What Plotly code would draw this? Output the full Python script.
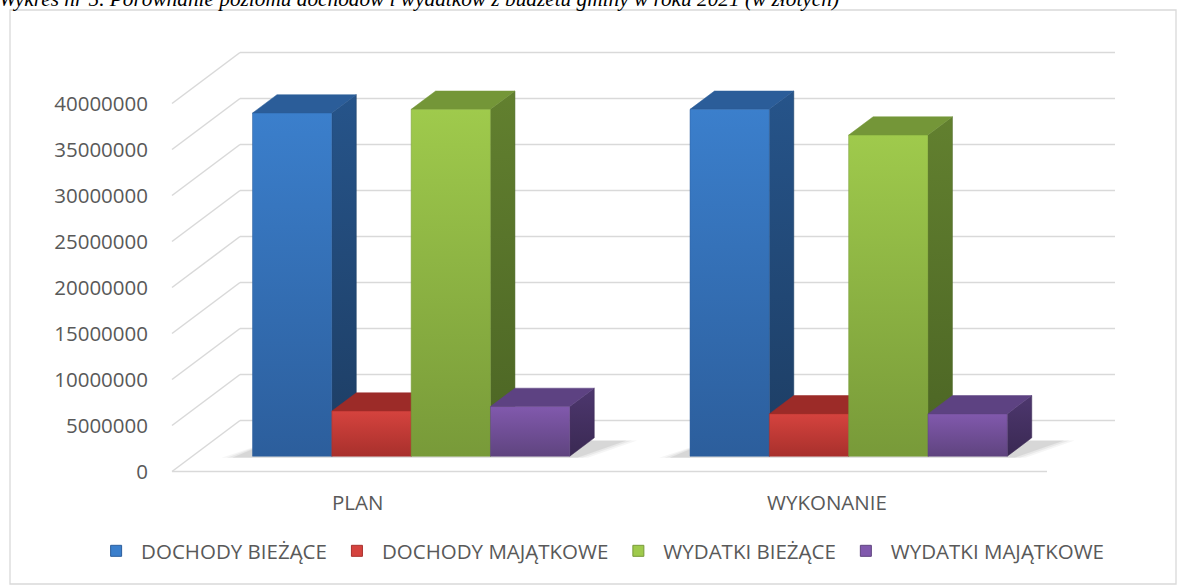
import plotly.graph_objects as go

# ---------------- data ----------------
categories = ["PLAN", "WYKONANIE"]
series_names = ["DOCHODY BIEŻĄCE", "DOCHODY MAJĄTKOWE", "WYDATKI BIEŻĄCE", "WYDATKI MAJĄTKOWE"]
dochody_biezace = [37.3e6, 37.7e6]
dochody_majatkowe = [4.9e6, 4.6e6]
wydatki_biezace = [37.7e6, 34.9e6]
wydatki_majatkowe = [5.4e6, 4.6e6]
tick_values = [0, 5e6, 10e6, 15e6, 20e6, 25e6, 30e6, 35e6, 40e6]
title_text = "Wykres nr 5. Porównanie poziomu dochodów i wydatków z budżetu gminy w roku 2021 (w złotych)"

series_values = [dochody_biezace, dochody_majatkowe, wydatki_biezace, wydatki_majatkowe]

# ---------------- styles ----------------
front_top = ["#3b7fcc", "#d5433e", "#9fca4c", "#8159ad"]
front_bot = ["#2c5e9c", "#a8302c", "#789a39", "#5f447f"]
top_col = ["#2b5d99", "#9c2b28", "#749638", "#5d4282"]
side_top = ["#26548a", "#86262a", "#62802f", "#4d376e"]
side_bot = ["#1d3d63", "#6a1d1c", "#4b6424", "#3a2953"]
grid_col = "#d9d9d9"
text_col = "#595959"
FONT = "Open Sans"

W, H = 1186, 585
PLOT_LEFT_PX = 160
X0_PX = 172.0        # floor front-left corner (pixel)
CAT_PX = 437.5       # pixels per category
Y0_PX = 471.5        # zero level on front plane (pixel)
VAL_PER_PX = 5e6 / 46.0
DEPTH_DX_PX = 68.0
DEPTH_DY_PX = 51.0

DZX = DEPTH_DX_PX / CAT_PX
DZY = DEPTH_DY_PX * VAL_PER_PX

BW = 0.1813          # bar width (category units)
GAP = 1 - 4 * BW
Z0, Z1 = 0.30, 0.66  # bar depth extent (0 = front, 1 = back wall)


def proj(xc, z, v):
    return xc + z * DZX, v + z * DZY


def poly(points):
    xs, ys = [], []
    for (xc, z, v) in points:
        px, py = proj(xc, z, v)
        xs.append(px)
        ys.append(py)
    xs.append(xs[0])
    ys.append(ys[0])
    return xs, ys


fig = go.Figure()

# ---------------- walls / grid ----------------
n_cat = len(categories)
for v in tick_values:
    xs, ys = zip(*[proj(0, 0, v), proj(0, 1, v)])
    fig.add_trace(go.Scatter(x=list(xs), y=list(ys), mode="lines",
                             line=dict(color=grid_col, width=1.5),
                             hoverinfo="skip", showlegend=False))
    xs, ys = zip(*[proj(0, 1, v), proj(n_cat, 1, v)])
    fig.add_trace(go.Scatter(x=list(xs), y=list(ys), mode="lines",
                             line=dict(color=grid_col, width=1.5),
                             hoverinfo="skip", showlegend=False))
xs, ys = zip(*[proj(0, 0, 0), proj(n_cat, 0, 0)])
fig.add_trace(go.Scatter(x=list(xs), y=list(ys), mode="lines",
                         line=dict(color=grid_col, width=1.5),
                         hoverinfo="skip", showlegend=False))

# ---------------- soft shadows ----------------
for c in range(n_cat):
    gx0 = c + GAP / 2
    gx1 = gx0 + 4 * BW
    for k, alpha in enumerate([0.04, 0.05, 0.07]):
        e = 0.012 * (3 - k)
        xs, ys = poly([(gx0 - 0.03 - e, Z0 - 0.03, 0), (gx1 + 0.01 + e, Z0 - 0.03, 0),
                       (gx1 + 0.07 + e, Z1 - 0.05, 0), (gx0, Z1 - 0.05, 0)])
        fig.add_trace(go.Scatter(x=xs, y=ys, mode="lines", fill="toself",
                                 fillcolor=f"rgba(0,0,0,{alpha})", line=dict(width=0),
                                 hoverinfo="skip", showlegend=False))

# ---------------- bars ----------------
for c in range(n_cat):
    for i, vals in enumerate(series_values):
        v = vals[c]
        x0 = c + GAP / 2 + i * BW
        x1 = x0 + BW
        xs, ys = poly([(x1, Z0, 0), (x1, Z1, 0), (x1, Z1, v), (x1, Z0, v)])
        fig.add_trace(go.Scatter(x=xs, y=ys, mode="lines", fill="toself",
                                 fillcolor=side_top[i],
                                 fillgradient=dict(type="vertical",
                                                   colorscale=[[0, side_bot[i]], [1, side_top[i]]]),
                                 line=dict(width=0.5, color=side_bot[i]),
                                 hoverinfo="skip", showlegend=False))
        xs, ys = poly([(x0, Z0, v), (x1, Z0, v), (x1, Z1, v), (x0, Z1, v)])
        fig.add_trace(go.Scatter(x=xs, y=ys, mode="lines", fill="toself",
                                 fillcolor=top_col[i], line=dict(width=0.5, color=top_col[i]),
                                 hoverinfo="skip", showlegend=False))
        xs, ys = poly([(x0, Z0, 0), (x1, Z0, 0), (x1, Z0, v), (x0, Z0, v)])
        fig.add_trace(go.Scatter(x=xs, y=ys, mode="lines", fill="toself",
                                 fillcolor=front_top[i],
                                 fillgradient=dict(type="vertical",
                                                   colorscale=[[0, front_bot[i]], [1, front_top[i]]]),
                                 line=dict(width=0.5, color=front_bot[i]),
                                 name=series_names[i],
                                 text=f"{categories[c]}<br>{series_names[i]}: {v:,.0f}",
                                 hoverinfo="text", hoveron="fills", showlegend=False))

# ---------------- legend entries ----------------
for i, name in enumerate(series_names):
    fig.add_trace(go.Scatter(x=[None], y=[None], mode="markers", name=name,
                             marker=dict(symbol="square", size=11, color=front_top[i],
                                         line=dict(color=front_bot[i], width=1))))

# ---------------- category labels ----------------
label_dx = [-0.075, -0.002]
for c, cat in enumerate(categories):
    fig.add_annotation(x=c + 0.5 + label_dx[c], y=1 - 502 / H, xref="x", yref="paper",
                       text=cat, showarrow=False, xanchor="center", yanchor="middle",
                       font=dict(family=FONT, size=20.5, color=text_col))

# title (cut by the top edge, as in the source)
fig.add_annotation(x=0, y=1, xref="paper", yref="paper", xanchor="left", yanchor="middle",
                   xshift=-3, yshift=1, showarrow=False,
                   text=f"<i>{title_text}</i>",
                   font=dict(family="Liberation Serif", size=21.3, color="#000000"))

# chart frame
fig.add_shape(type="rect", xref="paper", yref="paper",
              x0=10 / W, x1=1176 / W, y0=1 - 584 / H, y1=1 - 10 / H,
              line=dict(color="#d9d9d9", width=1.3), fillcolor="rgba(0,0,0,0)", layer="below")

fig.update_layout(
    width=W, height=H,
    margin=dict(l=0, r=0, t=0, b=0),
    paper_bgcolor="white", plot_bgcolor="rgba(0,0,0,0)",
    font=dict(family=FONT, color=text_col),
    xaxis=dict(domain=[PLOT_LEFT_PX / W, 1],
               range=[(PLOT_LEFT_PX - X0_PX) / CAT_PX, (W - X0_PX) / CAT_PX],
               showgrid=False, zeroline=False, showline=False, showticklabels=False,
               ticks="", fixedrange=True),
    yaxis=dict(domain=[0, 1],
               range=[-(H - Y0_PX) * VAL_PER_PX, Y0_PX * VAL_PER_PX],
               showgrid=False, zeroline=False, showline=False,
               tickvals=tick_values, tickformat="d", ticks="",
               ticklabelstandoff=11,
               tickfont=dict(family=FONT, size=20.5, color=text_col),
               automargin=False, fixedrange=True),
    legend=dict(orientation="h", x=0.506, xanchor="center", y=1 - 551 / H, yanchor="middle",
                font=dict(family=FONT, size=20.5, color=text_col),
                itemwidth=40,
                bgcolor="rgba(0,0,0,0)", itemclick=False, itemdoubleclick=False),
    showlegend=True,
)

fig.write_html(
    "out.html",
    config={"displayModeBar": False},
    post_script="document.documentElement.style.margin='0';document.body.style.margin='0';"
                "document.body.style.overflow='hidden';",
)
